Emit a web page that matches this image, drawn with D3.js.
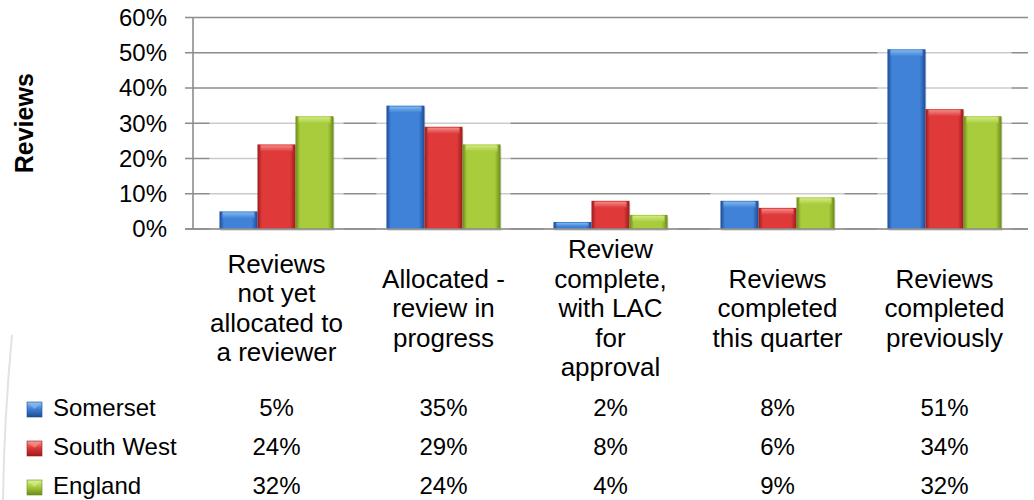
<!DOCTYPE html>
<html>
<head>
<meta charset="utf-8">
<script src="https://cdn.jsdelivr.net/npm/d3@7"></script>
<style>
  html, body { margin: 0; padding: 0; background: #fff; }
  svg { display: block; font-family: "Liberation Sans", Arial, sans-serif; }
</style>
</head>
<body>
<svg id="chart" width="1034" height="500"></svg>
<script>
const categories = [
  "Reviews\nnot yet\nallocated to\na reviewer",
  "Allocated -\nreview in\nprogress",
  "Review\ncomplete,\nwith LAC\nfor\napproval",
  "Reviews\ncompleted\nthis quarter",
  "Reviews\ncompleted\npreviously"
];
const seriesNames = ["Somerset", "South West", "England"];
const somerset  = [5, 35, 2, 8, 51];
const southWest = [24, 29, 8, 6, 34];
const england   = [32, 24, 4, 9, 32];
const seriesValues = [somerset, southWest, england];
const yTicks = [0, 10, 20, 30, 40, 50, 60];
const axisTitle = "Reviews";

(function () {
const colors = [
  { edge: "#1d4b94", mid: "#3f82d8", light: "#8fc0f0" },
  { edge: "#9a1c1c", mid: "#e0393a", light: "#f39a94" },
  { edge: "#6b8a18", mid: "#a9cc3c", light: "#d9ef8e" }
];

const svg = d3.select("#chart");
const pLeft = 193, pRight = 1028, pTop = 17.5, pBottom = 229;

const x0 = d3.scaleBand().domain(d3.range(categories.length))
  .range([pLeft, pRight]).paddingInner(0.317).paddingOuter(0.1585);
const x1 = d3.scaleBand().domain(d3.range(seriesNames.length))
  .range([0, x0.bandwidth()]).padding(0);
const y = d3.scaleLinear().domain([0, 60]).range([pBottom, pTop]);

// gradients
const defs = svg.append("defs");
colors.forEach((c, i) => {
  const g = defs.append("linearGradient").attr("id", "bar" + i)
    .attr("x1", "0").attr("x2", "1").attr("y1", "0").attr("y2", "0");
  g.append("stop").attr("offset", "0").attr("stop-color", c.edge);
  g.append("stop").attr("offset", "0.12").attr("stop-color", c.mid);
  g.append("stop").attr("offset", "0.4").attr("stop-color", c.mid);
  g.append("stop").attr("offset", "0.85").attr("stop-color", c.mid);
  g.append("stop").attr("offset", "1").attr("stop-color", c.edge);
  const t = defs.append("linearGradient").attr("id", "cap" + i)
    .attr("x1", "0").attr("x2", "0").attr("y1", "0").attr("y2", "1");
  t.append("stop").attr("offset", "0").attr("stop-color", c.light);
  t.append("stop").attr("offset", "1").attr("stop-color", c.mid);
  const m = defs.append("linearGradient").attr("id", "mk" + i)
    .attr("x1", "0").attr("x2", "0").attr("y1", "0").attr("y2", "1");
  m.append("stop").attr("offset", "0").attr("stop-color", c.light);
  m.append("stop").attr("offset", "0.45").attr("stop-color", c.mid);
  m.append("stop").attr("offset", "1").attr("stop-color", c.edge);
});

// gridlines
svg.append("g").selectAll("line").data(yTicks).join("line")
  .attr("x1", pLeft - 8).attr("x2", pRight)
  .attr("y1", d => y(d)).attr("y2", d => y(d))
  .attr("stroke", "#8c8c8c").attr("stroke-width", 1.6);

// y axis line
svg.append("line").attr("x1", pLeft).attr("x2", pLeft)
  .attr("y1", y(60)).attr("y2", y(0))
  .attr("stroke", "#8c8c8c").attr("stroke-width", 1.6);

// tick labels
svg.append("g").selectAll("text").data(yTicks).join("text")
  .attr("x", 167).attr("y", d => y(d))
  .attr("dy", "0.35em").attr("text-anchor", "end")
  .attr("font-size", 24).attr("fill", "#000")
  .text(d => d + "%");

// axis title
svg.append("text")
  .attr("transform", `translate(33,${(pTop + pBottom) / 2}) rotate(-90)`)
  .attr("text-anchor", "middle").attr("font-size", 25).attr("font-weight", "bold")
  .text(axisTitle);

// faint backdrop behind each bar group
svg.append("g").selectAll("rect").data(categories.map((c, i) => i)).join("rect")
  .attr("x", i => x0(i) - 10)
  .attr("width", x0.bandwidth() + 20)
  .attr("y", i => y(d3.max(seriesValues, s => s[i]) + 1.3))
  .attr("height", i => y(0) + 6 - y(d3.max(seriesValues, s => s[i]) + 1.3))
  .attr("fill", "#fff").attr("opacity", 0.55);

// bars
const groups = svg.append("g").selectAll("g").data(categories.map((c, i) => i)).join("g")
  .attr("transform", i => `translate(${x0(i)},0)`);
groups.each(function (ci) {
  const g = d3.select(this);
  seriesValues.forEach((vals, si) => {
    const v = vals[ci];
    const bx = x1(si), bw = x1.bandwidth();
    const by = y(v), bh = y(0) - y(v);
    g.append("rect").attr("x", bx + 1).attr("y", by + 2).attr("width", bw)
      .attr("height", bh).attr("fill", "#000").attr("opacity", 0.12);
    g.append("rect").attr("x", bx).attr("y", by).attr("width", bw)
      .attr("height", bh).attr("fill", `url(#bar${si})`);
    const capH = Math.min(6, bh * 0.5);
    g.append("rect").attr("x", bx + 3).attr("y", by + 1).attr("width", bw - 6)
      .attr("height", capH).attr("fill", `url(#cap${si})`).attr("opacity", 0.85);
  });
});

// bottom axis line on top of bars
svg.append("line").attr("x1", pLeft - 8).attr("x2", pRight)
  .attr("y1", y(0)).attr("y2", y(0))
  .attr("stroke", "#8c8c8c").attr("stroke-width", 1.6);

// category labels (vertically centred)
const lh = 29.5, midBase = 317;
svg.append("g").selectAll("text").data(categories).join("text")
  .attr("text-anchor", "middle").attr("font-size", 26).attr("fill", "#000")
  .each(function (c, i) {
    const lines = c.split("\n");
    const first = midBase - (lines.length - 1) / 2 * lh;
    d3.select(this).selectAll("tspan").data(lines).join("tspan")
      .attr("x", x0(i) + x0.bandwidth() / 2)
      .attr("y", (d, k) => first + k * lh)
      .text(d => d);
  });

// data table with legend keys
const rowBase = [416, 455, 494];
seriesNames.forEach((name, si) => {
  svg.append("rect").attr("x", 27).attr("y", rowBase[si] - 14)
    .attr("width", 15).attr("height", 15).attr("fill", `url(#mk${si})`)
    .attr("stroke", colors[si].edge).attr("stroke-width", 0.6);
  svg.append("path")
    .attr("d", `M28,${rowBase[si] - 13} L34.5,${rowBase[si] - 7} L41,${rowBase[si] - 13} Z`)
    .attr("fill", colors[si].light).attr("opacity", 0.55);
  svg.append("text").attr("x", 53).attr("y", rowBase[si])
    .attr("font-size", 24).attr("fill", "#000").text(name);
  svg.append("g").selectAll("text").data(seriesValues[si]).join("text")
    .attr("x", (d, i) => x0(i) + x0.bandwidth() / 2)
    .attr("y", rowBase[si])
    .attr("text-anchor", "middle").attr("font-size", 24).attr("fill", "#000")
    .text(d => d + "%");
});

// faint decorative edge at left
svg.append("path").attr("d", "M12,335 Q4,420 3,500")
  .attr("fill", "none").attr("stroke", "#e2e2e2").attr("stroke-width", 2);
})();
</script>
</body>
</html>
